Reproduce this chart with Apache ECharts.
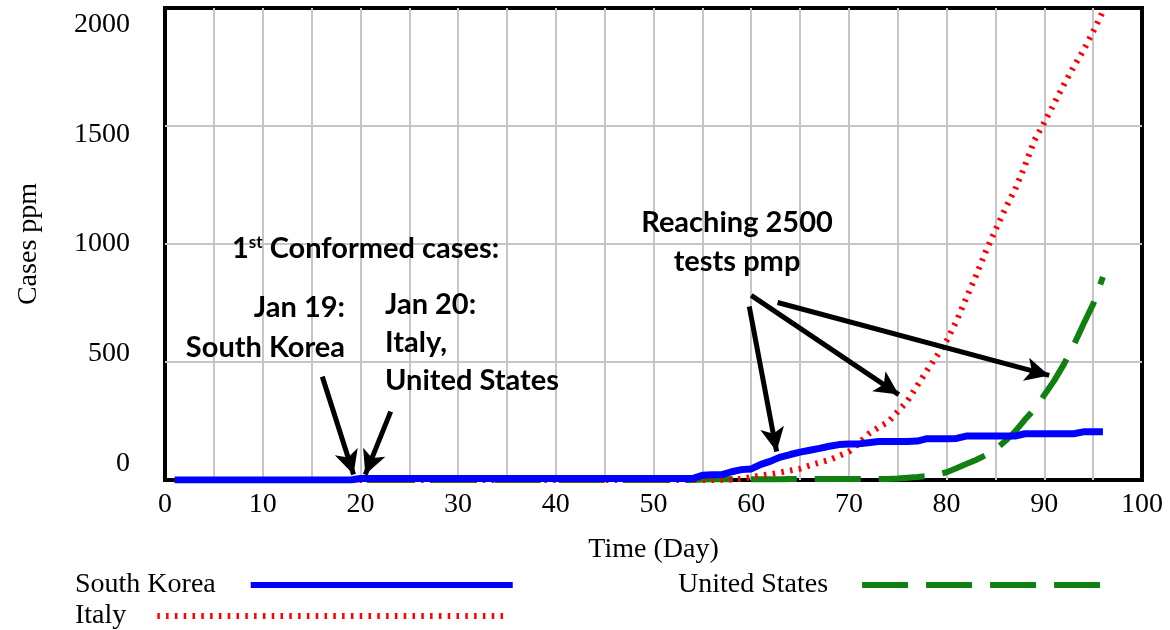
<!DOCTYPE html>
<html><head><meta charset="utf-8">
<script src="https://cdn.jsdelivr.net/npm/echarts@6/dist/echarts.min.js"></script>
<style>html,body{margin:0;padding:0;background:#fff}#c{width:1170px;height:630px}</style>
</head><body><div id="c"></div>
<script>
// ---- data ----
const firstDay = 1;
const southKorea = [
  0,0,0,0,0,0,0,0,0,0, 0,0,0,0,0,0,0,0,0,6,
  6,6,6,6,6,6,6,6,6,6, 6,6,6,6,6,6,6,6,6,6,
  6,6,6,6,6,6,6,6,6,6, 6,6,6,6,20,22,23,35,44,47,
  66,80,97,108,118,126,134,143,150,153, 153,158,163,163,163,163,165,175,175,175,
  176,186,186,186,186,186,186,196,196,196, 196,196,196,204,204,204
];
const italy = [
  0,0,0,0,0,0,0,0,0,0, 0,0,0,0,0,0,0,0,0,0,
  0,0,0,0,0,0,0,0,0,0, 0,0,0,0,0,0,0,0,0,0,
  0,0,0,0,0,0,0,0,0,0, 0,0,0,0,0,0,1,2,5,12,
  20,25,32,40,48,62,74,85,103,120, 155,195,222,245,290,335,400,465,525,590,
  672,770,865,967,1060,1150,1230,1330,1440,1515, 1595,1675,1750,1820,1900,1985
];
const unitedStates = [
  0,0,0,0,0,0,0,0,0,0, 0,0,0,0,0,0,0,0,0,0,
  0,0,0,0,0,0,0,0,0,0, 0,0,0,0,0,0,0,0,0,0,
  0,0,0,0,0,0,0,0,0,0, 0,0,0,0,2,3,3,3,3,3,
  3,3,3,4,4,4,4,4,4,4, 4,4,4,4,6,10,13,17,23,33,
  50,68,85,105,130,165,205,255,300,360, 420,490,570,660,745,860
];
const seriesNames = ['South Korea', 'Italy', 'United States'];
const xRange = [0, 100];
const xStep = 10;
const yTickLabels = [0, 500, 1000, 1500, 2000];
const xTitle = 'Time (Day)';
const yTitle = 'Cases ppm';
// annotation arrows in data coordinates [from, to]
const arrows = [
  [[16.1, 438], [19.3, 23]],
  [[23.1, 290], [20.5, 23]],
  [[59.8, 735], [62.6, 121]],
  [[60.0, 782], [75.1, 362]],
  [[62.7, 752], [90.5, 443]]
];

function pairs(vals){ return vals.map((v,i)=>[firstDay+i, v]); }

const serif = 'Liberation Serif';
const bold = 'Lato';
const gridColor = '#c6c6c6';

function legendOf(name, left, top, width, gap){
  return {data:[name], left:left, top:top, align:'right', itemWidth:width, itemHeight:14, selectedMode:false,
    itemStyle:{opacity:0, borderWidth:0},
    lineStyle:{width:6, opacity:1},
    textStyle:{fontFamily:serif, fontSize:28, color:'#000', padding:[0,gap,0,0]}};
}

const chart = echarts.init(document.getElementById('c'), null, {renderer:'canvas'});
chart.setOption({
  animation:false,
  backgroundColor:'#fff',
  grid:{left:165, right:28, top:8, bottom:150, show:true, borderColor:'#000', borderWidth:4, backgroundColor:'transparent'},
  xAxis:{
    type:'value', min:xRange[0], max:xRange[1], interval:xStep,
    name:xTitle, nameLocation:'middle', nameGap:56,
    nameTextStyle:{fontFamily:serif, fontSize:28, color:'#000'},
    axisLine:{show:false}, axisTick:{show:false},
    axisLabel:{fontFamily:serif, fontSize:28, color:'#000', margin:11},
    splitLine:{show:true, showMinLine:false, showMaxLine:false, lineStyle:{color:gridColor, width:2}},
    minorTick:{show:false, splitNumber:2},
    minorSplitLine:{show:true, lineStyle:{color:gridColor, width:2}}
  },
  yAxis:[{
    type:'value', min:0, max:2000, interval:500, position:'left',
    name:yTitle, nameLocation:'middle', nameGap:122,
    nameTextStyle:{fontFamily:serif, fontSize:28, color:'#000'},
    axisLine:{show:false}, axisTick:{show:false}, axisLabel:{show:false},
    splitLine:{show:true, showMinLine:false, showMaxLine:false, lineStyle:{color:gridColor, width:2}}
  },{
    type:'value', min:-75, max:2076, position:'left',
    axisLine:{show:false}, axisTick:{show:false}, splitLine:{show:false},
    axisLabel:{customValues:yTickLabels, formatter:(v)=>String(v), fontFamily:serif, fontSize:28, color:'#000', margin:35}
  }],
  legend:[
    legendOf(seriesNames[0], 70, 566, 262, 30),
    legendOf(seriesNames[1], 70, 597, 352, 26),
    legendOf(seriesNames[2], 673, 566, 250, 29)
  ],
  series:[
    {name:seriesNames[0], type:'line', data:pairs(southKorea), symbol:'none', z:4,
     lineStyle:{color:'#0000ff', width:7}, itemStyle:{color:'#0000ff'},
     markLine:{silent:true, symbol:['none','arrow'], symbolSize:[18,24], label:{show:false},
       lineStyle:{color:'#000', width:5, type:'solid'}, emphasis:{disabled:true},
       data:arrows.map(a=>[{coord:a[0]},{coord:a[1]}])}},
    {name:seriesNames[1], type:'line', data:pairs(italy), symbol:'none', z:3,
     lineStyle:{color:'#ff0000', width:6, type:[2.5,6.3]}, itemStyle:{color:'#ff0000'}},
    {name:seriesNames[2], type:'line', data:pairs(unitedStates), symbol:'none', z:2,
     lineStyle:{color:'#118011', width:6, type:[46,18]}, itemStyle:{color:'#118011'}}
  ],
  graphic:[
    {type:'text', x:232, y:249, z:10, style:{text:'{a|1}{s|st}{a| Conformed cases:}', align:'left', verticalAlign:'middle',
      rich:{a:{fontFamily:bold, fontWeight:'bold', fontSize:29, fill:'#000', verticalAlign:'bottom'},
            s:{fontFamily:bold, fontWeight:'bold', fontSize:17, fill:'#000', verticalAlign:'bottom', padding:[0,0,12,0]}}}},
    {type:'text', x:345, y:308, z:10, style:{text:'Jan 19:', fontFamily:bold, fontWeight:'bold', fontSize:29, fill:'#000', align:'right', verticalAlign:'middle'}},
    {type:'text', x:345, y:348, z:10, style:{text:'South Korea', fontFamily:bold, fontWeight:'bold', fontSize:29, fill:'#000', align:'right', verticalAlign:'middle'}},
    {type:'text', x:385, y:305, z:10, style:{text:'Jan 20:', fontFamily:bold, fontWeight:'bold', fontSize:29, fill:'#000', align:'left', verticalAlign:'middle'}},
    {type:'text', x:385, y:343, z:10, style:{text:'Italy,', fontFamily:bold, fontWeight:'bold', fontSize:29, fill:'#000', align:'left', verticalAlign:'middle'}},
    {type:'text', x:385, y:381, z:10, style:{text:'United States', fontFamily:bold, fontWeight:'bold', fontSize:29, fill:'#000', align:'left', verticalAlign:'middle'}},
    {type:'text', x:737, y:223, z:10, style:{text:'Reaching 2500', fontFamily:bold, fontWeight:'bold', fontSize:29, fill:'#000', align:'center', verticalAlign:'middle'}},
    {type:'text', x:737, y:262, z:10, style:{text:'tests pmp', fontFamily:bold, fontWeight:'bold', fontSize:29, fill:'#000', align:'center', verticalAlign:'middle'}}
  ]
});
</script></body></html>
